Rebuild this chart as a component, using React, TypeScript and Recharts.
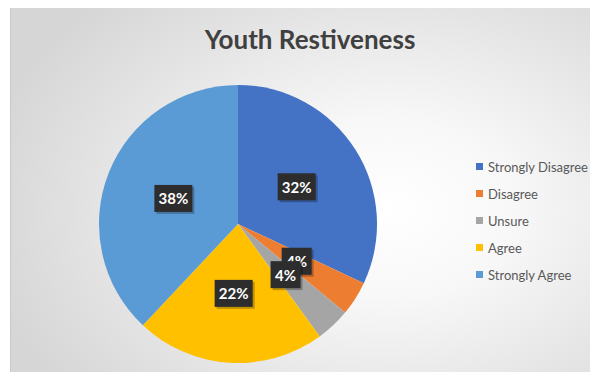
import React from "react";
import { PieChart, Pie, Cell, Legend } from "recharts";

const categories = ["Strongly Disagree", "Disagree", "Unsure", "Agree", "Strongly Agree"];
const percentages = [32, 4, 4, 22, 38];
const colors = ["#4472C4", "#ED7D31", "#A5A5A5", "#FFC000", "#5B9BD5"];
const title = "Youth Restiveness";

const data = categories.map((name, i) => ({ name, value: percentages[i] }));

const RAD = Math.PI / 180;

const renderLabel = (props: any) => {
  const { cx, cy, midAngle, outerRadius, value } = props;
  const r = outerRadius * 0.5;
  const x = cx + r * Math.cos(-midAngle * RAD);
  const y = cy + r * Math.sin(-midAngle * RAD);
  const text = `${value}%`;
  const w = text.length <= 2 ? 30 : 38;
  const h = 27;
  return (
    <g>
      <rect x={x - w / 2 + 2} y={y - h / 2 + 2} width={w} height={h} fill="#000" opacity={0.25} />
      <rect x={x - w / 2} y={y - h / 2} width={w} height={h} fill="#2d2d2d" />
      <text
        x={x}
        y={y}
        textAnchor="middle"
        dominantBaseline="central"
        fill="#ffffff"
        fontWeight="bold"
        fontSize={15}
        fontFamily="Lato, sans-serif"
      >
        {text}
      </text>
    </g>
  );
};

const renderLegend = () => (
  <div style={{ fontFamily: "Lato, sans-serif", fontSize: 13, color: "#595959" }}>
    {categories.map((c, i) => (
      <div key={c} style={{ display: "flex", alignItems: "center", height: 27 }}>
        <span style={{ display: "inline-block", width: 7, height: 7, background: colors[i], marginRight: 5 }} />
        <span>{c}</span>
      </div>
    ))}
  </div>
);

export default function App() {
  return (
    <div style={{ position: "relative", width: 598, height: 380, margin: -8, background: "#ffffff", overflow: "hidden" }}>
      <div
        style={{
          position: "absolute",
          left: 10,
          top: 8,
          width: 588,
          height: 372,
          borderLeft: "1px solid #c9c9c9",
          background: "radial-gradient(ellipse 70% 78% at 64% 54%, #ffffff 0%, #f8f8f8 30%, #e4e4e4 70%, #d6d6d6 100%)",
        }}
      />
      <div
        style={{
          position: "absolute",
          left: 110,
          top: 24,
          width: 400,
          textAlign: "center",
          fontFamily: "Lato, sans-serif",
          fontWeight: "bold",
          fontSize: 26,
          lineHeight: "31.2px",
          color: "#404040",
        }}
      >
        {title}
      </div>
      <div style={{ position: "absolute", left: 0, top: 0 }}>
        <PieChart width={598} height={380} margin={{ top: 0, right: 0, bottom: 0, left: 0 }}>
          <Pie
            data={data}
            dataKey="value"
            nameKey="name"
            cx={238}
            cy={224}
            outerRadius={139}
            startAngle={90}
            endAngle={-270}
            stroke="none"
            label={renderLabel}
            labelLine={false}
            isAnimationActive={false}
          >
            {data.map((d, i) => (
              <Cell key={d.name} fill={colors[i]} />
            ))}
          </Pie>
          <Legend
            content={renderLegend}
            layout="vertical"
            wrapperStyle={{ position: "absolute", left: 476, top: 153, width: 120 }}
          />
        </PieChart>
      </div>
    </div>
  );
}
